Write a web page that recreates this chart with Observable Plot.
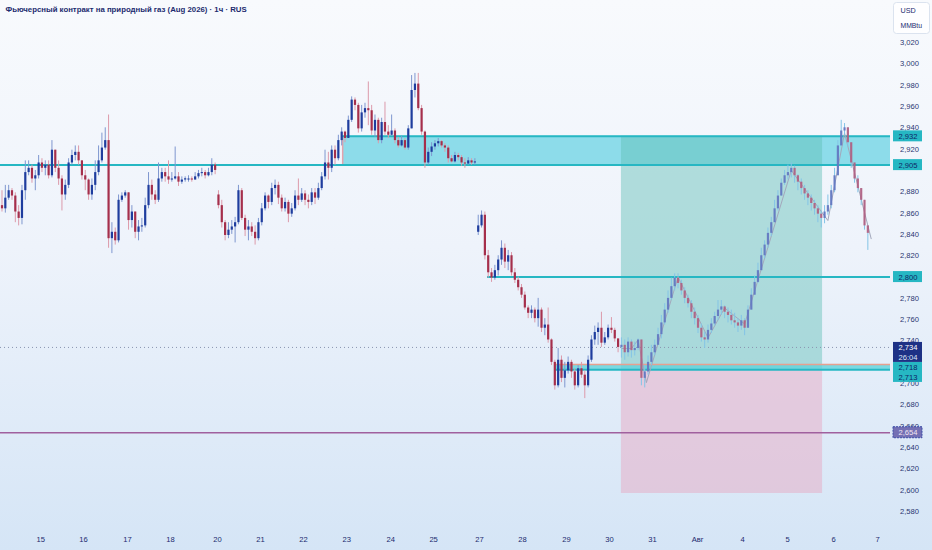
<!DOCTYPE html>
<html><head><meta charset="utf-8">
<script src="https://cdn.jsdelivr.net/npm/d3@7"></script>
<script src="https://cdn.jsdelivr.net/npm/@observablehq/plot@0.6"></script>
<style>
html,body{margin:0;padding:0;}
#wrap{width:932px;height:550px;background:linear-gradient(180deg,#f8fafd 0%,#eef3fb 45%,#d5e5f6 100%);overflow:hidden}
</style></head><body><div id="wrap"></div>
<script>
const title = "Фьючерсный контракт на природный газ (Aug 2026) · 1ч · RUS";
const unitLines = ["USD", "MMBtu"];

// bar closes / highs / lows (bar index = ~1/13 of a trading day)
const closes = [
2864,2874,2881,2876,2861,2855,2881,2898,2902,2892,
2895,2907,2902,2905,2895,2919,2902,2892,2877,2886,
2907,2914,2917,2909,2895,2891,2877,2886,2898,2909,
2921,2928,2836,2842,2834,2872,2876,2879,2853,2861,
2842,2847,2848,2867,2886,2877,2872,2892,2898,2894,
2891,2892,2894,2889,2891,2891,2892,2891,2894,2897,
2898,2895,2898,2905,2900,2867,2851,2839,2844,2847,
2851,2881,2855,2844,2847,2842,2836,2851,2864,2876,
2870,2883,2886,2874,2864,2870,2859,2864,2876,2872,
2878,2872,2870,2879,2874,2883,2894,2907,2902,2919,
2911,2928,2936,2930,2947,2966,2961,2939,2954,2958,
2956,2937,2947,2928,2945,2936,2933,2937,2928,2923,
2928,2921,2939,2975,2981,2958,2936,2907,2917,2922,
2925,2927,2923,2921,2911,2908,2914,2912,2907,2906,
2909,2907,2908,2848,2858,2820,2804,2799,2806,2816,
2827,2814,2820,2804,2797,2790,2783,2771,2766,2769,
2761,2769,2752,2755,2741,2720,2698,2722,2705,2712,
2720,2711,2698,2714,2708,2698,2722,2741,2748,2752,
2738,2743,2752,2750,2742,2734,2736,2729,2739,2731,
2733,2741,2705,2711,2720,2729,2736,2746,2757,2769,
2780,2791,2799,2794,2787,2780,2775,2767,2761,2752,
2743,2741,2750,2756,2763,2769,2772,2767,2764,2759,
2757,2754,2759,2752,2769,2783,2795,2806,2820,2830,
2841,2851,2864,2876,2888,2895,2898,2902,2895,2889,
2883,2878,2874,2869,2864,2859,2855,2861,2867,2881,
2895,2923,2937,2940,2926,2907,2892,2883,2872,2848,2841];
const highs = [
2881,2886,2886,2883,2879,2867,2886,2909,2909,2905,
2900,2914,2911,2909,2909,2928,2919,2909,2895,2891,
2911,2919,2923,2923,2909,2900,2892,2892,2909,2923,
2935,2940,2952,2851,2846,2877,2879,2881,2867,2867,
2858,2853,2855,2874,2898,2891,2881,2907,2902,2902,
2909,2898,2922,2898,2894,2894,2895,2894,2898,2900,
2902,2900,2902,2911,2907,2881,2872,2853,2851,2853,
2856,2886,2883,2858,2853,2851,2848,2855,2869,2879,
2877,2888,2891,2889,2877,2874,2872,2869,2881,2892,
2883,2881,2877,2883,2883,2888,2898,2919,2917,2923,
2923,2933,2940,2937,2951,2969,2968,2963,2961,2963,
2983,2961,2952,2949,2949,2964,2942,2952,2939,2931,
2932,2930,2942,2989,2991,2991,2961,2937,2921,2926,
2928,2930,2928,2925,2923,2914,2917,2916,2914,2911,
2912,2911,2911,2858,2862,2861,2825,2808,2811,2820,
2834,2831,2825,2823,2808,2800,2793,2786,2773,2773,
2771,2780,2771,2761,2771,2742,2722,2733,2726,2720,
2725,2722,2714,2717,2720,2712,2726,2745,2754,2757,
2767,2748,2755,2762,2752,2742,2743,2741,2743,2741,
2739,2742,2720,2717,2726,2736,2741,2752,2764,2775,
2787,2799,2803,2803,2797,2790,2783,2778,2771,2764,
2756,2748,2755,2761,2767,2778,2778,2773,2771,2769,
2766,2761,2764,2761,2773,2789,2801,2813,2827,2834,
2846,2856,2872,2881,2892,2900,2905,2907,2904,2896,
2892,2886,2881,2877,2872,2867,2862,2867,2877,2886,
2902,2928,2947,2944,2937,2923,2905,2895,2879,2872,2846];
const lows = [
2861,2860,2872,2872,2851,2848,2849,2872,2895,2888,
2881,2892,2898,2895,2892,2893,2898,2886,2862,2872,
2883,2905,2909,2905,2891,2881,2872,2872,2881,2895,
2907,2919,2827,2822,2830,2832,2870,2874,2844,2846,
2836,2834,2842,2846,2864,2872,2868,2870,2889,2889,
2887,2889,2891,2885,2887,2889,2889,2889,2891,2892,
2894,2892,2894,2895,2896,2864,2846,2834,2836,2840,
2832,2849,2853,2838,2834,2838,2830,2834,2848,2862,
2864,2867,2877,2868,2861,2861,2851,2856,2862,2867,
2870,2867,2864,2867,2868,2872,2881,2891,2891,2898,
2905,2909,2923,2926,2930,2945,2956,2935,2936,2949,
2942,2933,2931,2925,2925,2933,2930,2932,2925,2921,
2922,2919,2919,2939,2968,2956,2933,2902,2905,2913,
2919,2922,2921,2917,2907,2907,2907,2909,2904,2902,
2905,2905,2905,2839,2846,2816,2799,2795,2797,2801,
2811,2808,2806,2801,2794,2787,2780,2769,2761,2761,
2757,2753,2748,2745,2738,2717,2694,2696,2701,2696,
2709,2705,2694,2696,2705,2686,2696,2720,2736,2736,
2734,2736,2741,2747,2739,2729,2724,2722,2725,2724,
2726,2731,2698,2696,2708,2717,2726,2736,2742,2755,
2766,2778,2787,2789,2783,2775,2771,2761,2755,2747,
2739,2733,2738,2747,2754,2759,2764,2761,2757,2755,
2752,2748,2750,2745,2752,2769,2783,2794,2806,2817,
2827,2838,2851,2862,2876,2886,2891,2893,2888,2881,
2877,2872,2867,2862,2858,2851,2846,2850,2858,2864,
2879,2905,2928,2933,2922,2902,2888,2879,2867,2844,2825];
const gapOpens = {0: 2867, 65: 2877, 143: 2842};
const forecastStart = 186;

const zigzagBars   = [186, 189, 191, 193.5, 203, 212, 217, 223, 237, 248, 253, 261];
const zigzagPrices = [2733, 2733, 2741, 2701, 2800, 2743, 2771, 2756, 2900, 2853, 2935, 2836];

const dayTicks  = [11.6, 24.5, 37.7, 50.6, 64.7, 77.6, 90.5, 103.5, 116.7, 129.6, 143.4, 156.3, 169.5, 182.4, 195.3, 208.9, 222.4, 235.9, 249.7, 262.9];
const dayLabels = ["15","16","17","18","20","21","22","23","24","25","27","28","29","30","31","Авг","4","5","6","7"];
const priceTicks = [2580,2600,2620,2640,2660,2680,2700,2740,2760,2780,2820,2840,2860,2880,2920,2940,2960,2980,3000,3020];

const zoneFrom = 102.3, zoneLow = 2905, zoneHigh = 2932;
const posFrom = 186, posTo = 246.4, posEntry = 2713, posTarget = 2932, posStop = 2597;
const level2800From = 145.8, level2800 = 2800;
const bandFrom = 166.2, bandLow = 2713, bandHigh = 2718;
const lastPrice = 2734, countdown = "26:04";
const supportLine = 2654;
const xDomain = [-0.45, 266.8];

const bars = closes.map((c, i) => {
  const o = gapOpens[i] ?? closes[i - 1];
  return {i, o, c, h: Math.max(highs[i], o, c), l: Math.min(lows[i], o, c), up: c >= o, proj: i >= forecastStart};
});
const zig = zigzagBars.map((b, k) => ({b, p: zigzagPrices[k]}));

const teal = "#26b7c3", navy = "#1b2a6e";
const font = "Liberation Sans, Arial, sans-serif";
const fs = 7.6;
const fmt = d3.format(",");

const tealLabels = [zoneHigh, zoneLow, level2800].map(p => ({p, t: fmt(p)}));
const lab = {frameAnchor: "right", dx: 17.5, textAnchor: "middle", fontSize: fs};

const chart = Plot.plot({
  width: 932, height: 550,
  marginLeft: 0, marginRight: 42, marginTop: 0, marginBottom: 28,
  x: {domain: xDomain, axis: null},
  y: {domain: [2569.8, 3059.4], axis: null},
  style: {background: "transparent", fontFamily: font, fontSize: "8px", color: navy},
  marks: [
    // long position tool
    Plot.rect([0], {x1: posFrom, x2: posTo, y1: posStop, y2: posEntry, fill: "#e6afc8", fillOpacity: 0.55}),
    Plot.rect([0], {x1: zoneFrom, x2: xDomain[1], y1: zoneLow, y2: zoneHigh, fill: "#8ddcea"}),
    Plot.rect([0], {x1: posFrom, x2: posTo, y1: posEntry, y2: posTarget, fill: "#5fbfb5", fillOpacity: 0.45}),
    Plot.ruleX([zoneFrom], {y1: zoneLow, y2: zoneHigh, stroke: "#e3a3ad", strokeWidth: 1.5}),
    Plot.ruleY([zoneHigh], {x1: zoneFrom, x2: xDomain[1], stroke: teal, strokeWidth: 2}),
    Plot.ruleY([zoneLow], {stroke: teal, strokeWidth: 2}),
    Plot.ruleY([level2800], {x1: level2800From, x2: xDomain[1], stroke: teal, strokeWidth: 2}),
    Plot.rect([0], {x1: bandFrom, x2: xDomain[1], y1: bandLow, y2: bandHigh, fill: "#5fd3dc", fillOpacity: 0.8}),
    Plot.ruleY([bandHigh], {x1: bandFrom, x2: xDomain[1], stroke: "#e7a08f", strokeWidth: 1.5}),
    Plot.ruleY([bandLow], {x1: bandFrom, x2: xDomain[1], stroke: teal, strokeWidth: 2}),
    Plot.ruleY([supportLine], {stroke: "#a0609e", strokeWidth: 1.5}),
    Plot.ruleY([lastPrice], {stroke: "#8a95b0", strokeWidth: 1, strokeDasharray: "1,3"}),
    // forecast path
    Plot.line(zig, {x: "b", y: "p", stroke: "#a3a8bc", strokeWidth: 1}),
    // candles
    Plot.ruleX(bars, {x: "i", y1: "l", y2: "h", strokeWidth: 1,
      stroke: d => d.proj ? "#84c4e6" : (d.up ? "#7f97cf" : "#dc9aaa")}),
    Plot.ruleX(bars, {x: "i", y1: "o", y2: d => Math.abs(d.c - d.o) < 1 ? d.o + (d.up ? 1.2 : -1.2) : d.c, strokeWidth: 2.2,
      stroke: d => d.proj ? (d.up ? "#5f70bd" : "#b45678") : (d.up ? "#1f3d9e" : "#a52f4c"),
      strokeOpacity: d => d.proj ? 0.85 : 1}),
    // title
    Plot.text([title], {frameAnchor: "top-left", dx: 5, dy: 9, lineAnchor: "middle", fontWeight: "bold", fill: navy, fontSize: 7.8, textAnchor: "start"}),
    // x axis labels
    Plot.text(dayTicks, {x: d => d, text: (d, k) => dayLabels[k], frameAnchor: "bottom", dy: 19, fill: navy, fontSize: fs,
      fontWeight: (d, k) => dayLabels[k] === "Авг" ? "bold" : "normal"}),
    // y axis labels
    Plot.text(priceTicks, {y: d => d, text: d => fmt(d), frameAnchor: "right", dx: 19, textAnchor: "middle", fill: "#2a3670", fontSize: fs}),
    // unit box
    Plot.frame({fill: "white", fillOpacity: 0.8, stroke: "#dbe3ef", rx: 3, insetLeft: 893, insetRight: -39, insetTop: 2, insetBottom: 489}),
    Plot.text([unitLines[0]], {frameAnchor: "top-right", dx: 10, dy: 10, lineAnchor: "middle", textAnchor: "start", fill: navy, fontSize: 7.2}),
    Plot.text([unitLines[1]], {frameAnchor: "top-right", dx: 10, dy: 25, lineAnchor: "middle", textAnchor: "start", fill: navy, fontSize: 6.8}),
    // price labels
    Plot.rect(tealLabels, {y1: "p", y2: "p", insetLeft: 893, insetRight: -32, insetTop: -5.5, insetBottom: -5.5, fill: teal}),
    Plot.text(tealLabels, {y: "p", text: "t", ...lab, fill: "#0e2566"}),
    Plot.rect([lastPrice], {y1: d => d, y2: d => d, insetLeft: 893, insetRight: -32, insetTop: -5, insetBottom: -15, fill: "#1d3185"}),
    Plot.text([lastPrice], {y: d => d, text: d => fmt(d), ...lab, fill: "white"}),
    Plot.text([countdown], {y: lastPrice, text: d => d, ...lab, dy: 10, fill: "#dfe6f7"}),
    Plot.rect([bandHigh], {y1: d => d, y2: d => d, insetLeft: 893, insetRight: -32, insetTop: -2, insetBottom: -8, fill: teal}),
    Plot.text([bandHigh], {y: d => d, text: d => fmt(d), ...lab, dy: 3, fill: "#0e2566"}),
    Plot.rect([bandLow], {y1: d => d, y2: d => d, insetLeft: 893, insetRight: -32, insetTop: 2.6, insetBottom: -12.6, fill: teal}),
    Plot.text([bandLow], {y: d => d, text: d => fmt(d), ...lab, dy: 7.6, fill: "#0e2566"}),
    Plot.rect([supportLine], {y1: d => d, y2: d => d, insetLeft: 893, insetRight: -32, insetTop: -5.5, insetBottom: -5.5, fill: "#7470b4", stroke: "#3d4fa8", strokeDasharray: "2,1"}),
    Plot.text([supportLine], {y: d => d, text: d => fmt(d), ...lab, fill: "#f3e6f2"})
  ]
});
document.getElementById("wrap").appendChild(chart);
</script></body></html>
